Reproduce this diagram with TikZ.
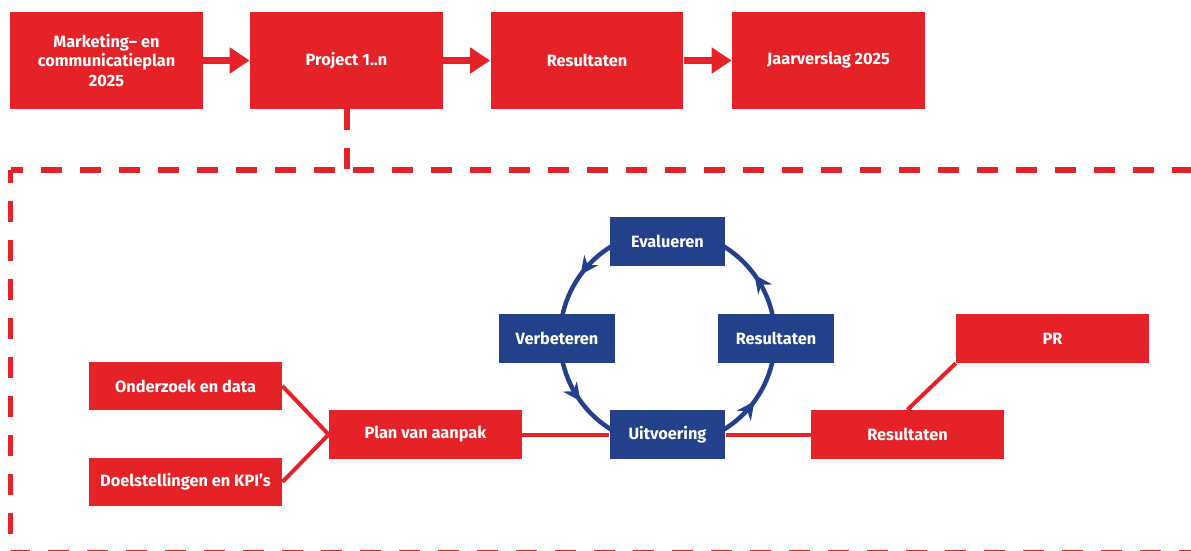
\documentclass[tikz,border=0pt]{standalone}
\usepackage{fontspec}
\setmainfont{Fira Sans}
\usetikzlibrary{arrows.meta,decorations.markings}
\definecolor{projred}{HTML}{E42227}
\definecolor{cycleblue}{HTML}{22418A}

\begin{document}
\begin{tikzpicture}[x=0.02cm, y=0.02cm,
	redbox/.style={fill=projred, text=white, inner sep=0pt, minimum width=3.86cm, minimum height=0.98cm,
		align=center, font=\fontsize{9.3}{11.3}\selectfont\bfseries},
	topbox/.style={redbox, minimum height=1.94cm},
	bluebox/.style={redbox, fill=cycleblue, minimum width=2.32cm},
	flow/.style={projred, line width=0.16cm, -{Triangle[length=0.4cm, width=0.5cm]}},
	link/.style={projred, line width=0.08cm},
	frame/.style={projred, line width=0.12cm, dash pattern=on 0.42cm off 0.36cm, dash phase=0.16cm},
	loopline/.style={cycleblue, line width=0.09cm, postaction={decorate}},
	looptip/.style={decoration={markings,
		mark=at position 0.1 with {\arrow{Stealth[length=0.36cm, width=0.34cm]}},
		mark=at position 0.4 with {\arrow{Stealth[length=0.36cm, width=0.34cm]}},
		mark=at position 0.6 with {\arrow{Stealth[length=0.36cm, width=0.34cm]}},
		mark=at position 0.9 with {\arrow{Stealth[length=0.36cm, width=0.34cm]}}}}]
	\useasboundingbox (0,0) rectangle (1191,-551);
	\clip (0,0) rectangle (1191,-551);

	% top row
	\node[topbox] (mcplan) at (106.5,-60.5) {Marketing– en\\communicatieplan\\2025};
	\node[topbox] (project) at (346.5,-60.5) {Project 1..n};
	\node[topbox] (results) at (587,-60.5) {Resultaten};
	\node[topbox] (annual) at (828.5,-60.5) {Jaarverslag 2025};
	\draw[flow] (mcplan) -- (project);
	\draw[flow] (project) -- (results);
	\draw[flow] (results) -- (annual);

	% dashed frame
	\coordinate (corner) at (10.5,-170);
	\draw[frame] (corner) -- (1200,-170);
	\draw[frame] (corner) -- (10.5,-553.2) -- (1200,-553.2);
	\draw[frame, dash phase=0cm] (project.south) -- (project.south |- corner);

	% cycle
	\coordinate (hub) at (667.5,-338);
	\draw[loopline, looptip] (hub) circle[radius=107.5];
	\node[bluebox] (evaluate) at (667.5,-241.5) {Evalueren};
	\node[bluebox] (improve) at (557,-338.5) {Verbeteren};
	\node[bluebox] (outcome) at (776,-338.5) {Resultaten};
	\node[bluebox] (execute) at (667.5,-434.5) {Uitvoering};

	% bottom row
	\node[redbox] (research) at (185.5,-386) {Onderzoek en data};
	\node[redbox] (goals) at (185.5,-482) {Doelstellingen en KPI’s};
	\node[redbox] (approach) at (425.5,-434.5) {Plan van aanpak};
	\node[redbox] (result) at (907.5,-434.5) {Resultaten};
	\node[redbox] (pr) at (1052.5,-338.5) {PR};
	\draw[link] (research.east) -- (approach.west);
	\draw[link] (goals.east) -- (approach.west);
	\draw[link] (approach) -- (execute);
	\draw[link] (execute) -- (result);
	\draw[link] (pr.south west) -- (result.north);
\end{tikzpicture}
\end{document}
